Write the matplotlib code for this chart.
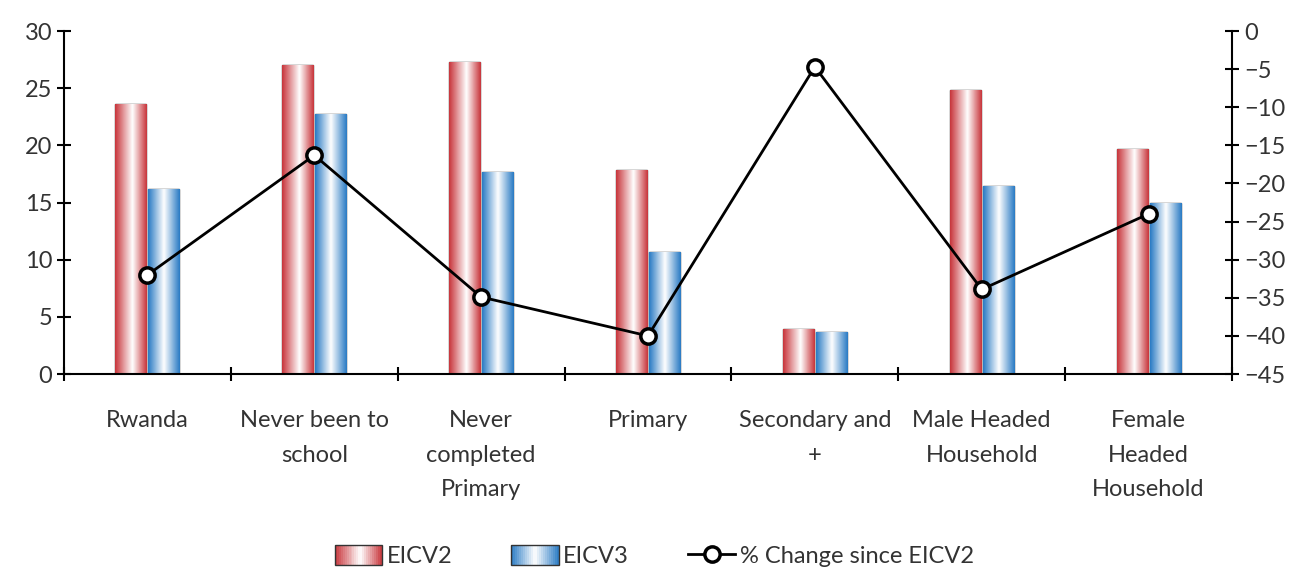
import matplotlib
matplotlib.use("Agg")
import matplotlib.pyplot as plt
import numpy as np
from matplotlib.colors import LinearSegmentedColormap
from matplotlib.legend_handler import HandlerBase
from matplotlib.patches import Rectangle
from matplotlib.lines import Line2D

plt.rcParams["font.family"] = ["Lato", "DejaVu Sans"]

categories = ["Rwanda", "Never been to\nschool", "Never\ncompleted\nPrimary", "Primary",
              "Secondary and\n+", "Male Headed\nHousehold", "Female\nHeaded\nHousehold"]
eicv2 = [23.6, 27.0, 27.3, 17.8, 3.9, 24.8, 19.7]
eicv3 = [16.2, 22.7, 17.7, 10.7, 3.7, 16.4, 15.0]
pct_change = [-32.0, -16.3, -34.9, -40.0, -4.7, -33.9, -24.0]

red_cmap = LinearSegmentedColormap.from_list(
    "red_cyl", [(0, "#c8363c"), (0.55, "#ffffff"), (1, "#c8363c")])
blue_cmap = LinearSegmentedColormap.from_list(
    "blue_cyl", [(0, "#2a7bc4"), (0.5, "#ffffff"), (1, "#2a7bc4")])
grad = np.linspace(0, 1, 64).reshape(1, -1)

FS = 17


def gradient_bars(ax, bars, cmap):
    for b in bars:
        x, y = b.get_x(), b.get_y()
        w, h = b.get_width(), b.get_height()
        im = ax.imshow(grad, cmap=cmap, aspect="auto", extent=(x, x + w, y, y + h),
                       zorder=b.get_zorder(), interpolation="bilinear")
        im.set_clip_path(b)
        b.set_facecolor("none")


class GradientHandler(HandlerBase):
    def __init__(self, cmap):
        super().__init__()
        self.cmap = cmap

    def create_artists(self, legend, orig_handle, xdescent, ydescent, width, height, fontsize, trans):
        n = 24
        arts = []
        for i in range(n):
            r = Rectangle((-xdescent + width * i / n, -ydescent), width / n + 0.3, height,
                          facecolor=self.cmap((i + 0.5) / n), edgecolor="none", transform=trans)
            arts.append(r)
        arts.append(Rectangle((-xdescent, -ydescent), width, height, facecolor="none",
                              edgecolor="#333333", lw=1.0, transform=trans))
        return arts


fig = plt.figure(figsize=(12.96, 5.71), dpi=100)
ax = fig.add_axes([0.0494, 0.345, 0.9012, 0.6007])
ax2 = ax.twinx()

x = np.arange(len(categories))
w = 0.186
b1 = ax.bar(x - w / 2 - 0.006, eicv2, w, edgecolor="#333333", linewidth=1.0, zorder=2)
b2 = ax.bar(x + w / 2 + 0.006, eicv3, w, edgecolor="#333333", linewidth=1.0, zorder=2)
ax.set_xlim(-0.5, len(categories) - 0.5)
ax.set_ylim(0, 30)
gradient_bars(ax, b1, red_cmap)
gradient_bars(ax, b2, blue_cmap)

ax2.plot(x, pct_change, color="black", lw=2, marker="o", markersize=11,
         markerfacecolor="white", markeredgecolor="black", markeredgewidth=2.5, zorder=3)
ax2.set_ylim(-45, 0)
ax2.set_yticks(np.arange(-45, 1, 5))

ax.set_yticks(np.arange(0, 31, 5))
ax.set_xticks(np.arange(-0.5, len(categories), 1.0))
ax.set_xticklabels([])
ax.set_xticks(x, minor=True)
ax.set_xticklabels(categories, minor=True, fontsize=FS, color="#333333", linespacing=1.8)
ax.tick_params(axis="x", which="major", direction="inout", length=10, width=1.5)
ax.tick_params(axis="x", which="minor", length=0, pad=26)
ax.tick_params(axis="y", direction="inout", length=10, width=1.5, labelsize=FS,
               labelcolor="#333333")
ax2.tick_params(axis="y", direction="inout", length=10, width=1.5, labelsize=FS,
                labelcolor="#333333")

for a in (ax, ax2):
    a.spines["top"].set_visible(False)
    for s in ("left", "right", "bottom"):
        a.spines[s].set_linewidth(1.5)
ax.spines["right"].set_visible(False)
ax2.spines["left"].set_visible(False)
ax2.spines["bottom"].set_visible(False)

line_handle = Line2D([], [], color="black", lw=2, marker="o", markersize=11,
                     markerfacecolor="white", markeredgecolor="black", markeredgewidth=2.5)
leg = fig.legend([b1, b2, line_handle], ["EICV2", "EICV3", "% Change since EICV2"],
                 loc="center", bbox_to_anchor=(0.505, 0.026), ncol=3, frameon=False,
                 fontsize=FS, handlelength=2.0, handleheight=0.9, columnspacing=2.5,
                 handletextpad=0.2,
                 handler_map={b1: GradientHandler(red_cmap), b2: GradientHandler(blue_cmap)})
for t in leg.get_texts():
    t.set_color("#333333")

fig.savefig("out.png", dpi=100)
